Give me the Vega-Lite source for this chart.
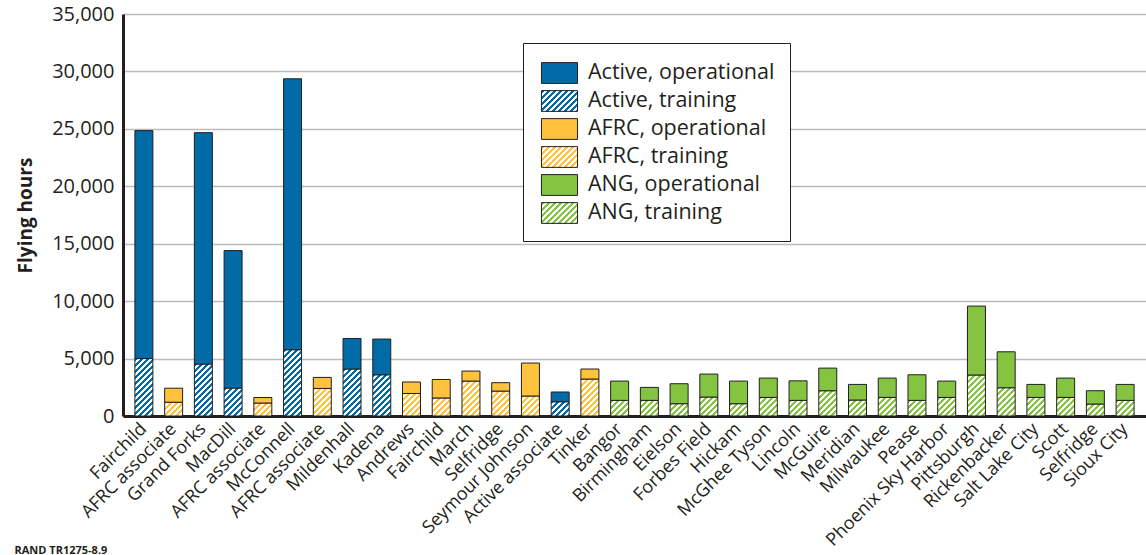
{
  "$schema": "https://vega.github.io/schema/vega-lite/v6.json",
  "width": 1023,
  "height": 402,
  "autosize": "none",
  "padding": {"left": 123, "top": 14, "right": 0, "bottom": 139},
  "background": "white",
  "config": {
    "font": "Open Sans",
    "view": {"stroke": null},
    "axis": {"labelFont": "Open Sans", "titleFont": "Open Sans", "labelColor": "#231F20", "titleColor": "#231F20"}
  },
  "params": [
    {"name": "stA", "value": [{"offset":0,"color":"#006BA6"},{"offset":0.0333,"color":"#006BA6"},{"offset":0.0333,"color":"#ffffff"},{"offset":0.0667,"color":"#ffffff"},{"offset":0.0667,"color":"#006BA6"},{"offset":0.1,"color":"#006BA6"},{"offset":0.1,"color":"#ffffff"},{"offset":0.1333,"color":"#ffffff"},{"offset":0.1333,"color":"#006BA6"},{"offset":0.1667,"color":"#006BA6"},{"offset":0.1667,"color":"#ffffff"},{"offset":0.2,"color":"#ffffff"},{"offset":0.2,"color":"#006BA6"},{"offset":0.2333,"color":"#006BA6"},{"offset":0.2333,"color":"#ffffff"},{"offset":0.2667,"color":"#ffffff"},{"offset":0.2667,"color":"#006BA6"},{"offset":0.3,"color":"#006BA6"},{"offset":0.3,"color":"#ffffff"},{"offset":0.3333,"color":"#ffffff"},{"offset":0.3333,"color":"#006BA6"},{"offset":0.3667,"color":"#006BA6"},{"offset":0.3667,"color":"#ffffff"},{"offset":0.4,"color":"#ffffff"},{"offset":0.4,"color":"#006BA6"},{"offset":0.4333,"color":"#006BA6"},{"offset":0.4333,"color":"#ffffff"},{"offset":0.4667,"color":"#ffffff"},{"offset":0.4667,"color":"#006BA6"},{"offset":0.5,"color":"#006BA6"},{"offset":0.5,"color":"#ffffff"},{"offset":0.5333,"color":"#ffffff"},{"offset":0.5333,"color":"#006BA6"},{"offset":0.5667,"color":"#006BA6"},{"offset":0.5667,"color":"#ffffff"},{"offset":0.6,"color":"#ffffff"},{"offset":0.6,"color":"#006BA6"},{"offset":0.6333,"color":"#006BA6"},{"offset":0.6333,"color":"#ffffff"},{"offset":0.6667,"color":"#ffffff"},{"offset":0.6667,"color":"#006BA6"},{"offset":0.7,"color":"#006BA6"},{"offset":0.7,"color":"#ffffff"},{"offset":0.7333,"color":"#ffffff"},{"offset":0.7333,"color":"#006BA6"},{"offset":0.7667,"color":"#006BA6"},{"offset":0.7667,"color":"#ffffff"},{"offset":0.8,"color":"#ffffff"},{"offset":0.8,"color":"#006BA6"},{"offset":0.8333,"color":"#006BA6"},{"offset":0.8333,"color":"#ffffff"},{"offset":0.8667,"color":"#ffffff"},{"offset":0.8667,"color":"#006BA6"},{"offset":0.9,"color":"#006BA6"},{"offset":0.9,"color":"#ffffff"},{"offset":0.9333,"color":"#ffffff"},{"offset":0.9333,"color":"#006BA6"},{"offset":0.9667,"color":"#006BA6"},{"offset":0.9667,"color":"#ffffff"},{"offset":1,"color":"#ffffff"}]},
    {"name": "stO", "value": [{"offset":0,"color":"#FFC23D"},{"offset":0.0333,"color":"#FFC23D"},{"offset":0.0333,"color":"#ffffff"},{"offset":0.0667,"color":"#ffffff"},{"offset":0.0667,"color":"#FFC23D"},{"offset":0.1,"color":"#FFC23D"},{"offset":0.1,"color":"#ffffff"},{"offset":0.1333,"color":"#ffffff"},{"offset":0.1333,"color":"#FFC23D"},{"offset":0.1667,"color":"#FFC23D"},{"offset":0.1667,"color":"#ffffff"},{"offset":0.2,"color":"#ffffff"},{"offset":0.2,"color":"#FFC23D"},{"offset":0.2333,"color":"#FFC23D"},{"offset":0.2333,"color":"#ffffff"},{"offset":0.2667,"color":"#ffffff"},{"offset":0.2667,"color":"#FFC23D"},{"offset":0.3,"color":"#FFC23D"},{"offset":0.3,"color":"#ffffff"},{"offset":0.3333,"color":"#ffffff"},{"offset":0.3333,"color":"#FFC23D"},{"offset":0.3667,"color":"#FFC23D"},{"offset":0.3667,"color":"#ffffff"},{"offset":0.4,"color":"#ffffff"},{"offset":0.4,"color":"#FFC23D"},{"offset":0.4333,"color":"#FFC23D"},{"offset":0.4333,"color":"#ffffff"},{"offset":0.4667,"color":"#ffffff"},{"offset":0.4667,"color":"#FFC23D"},{"offset":0.5,"color":"#FFC23D"},{"offset":0.5,"color":"#ffffff"},{"offset":0.5333,"color":"#ffffff"},{"offset":0.5333,"color":"#FFC23D"},{"offset":0.5667,"color":"#FFC23D"},{"offset":0.5667,"color":"#ffffff"},{"offset":0.6,"color":"#ffffff"},{"offset":0.6,"color":"#FFC23D"},{"offset":0.6333,"color":"#FFC23D"},{"offset":0.6333,"color":"#ffffff"},{"offset":0.6667,"color":"#ffffff"},{"offset":0.6667,"color":"#FFC23D"},{"offset":0.7,"color":"#FFC23D"},{"offset":0.7,"color":"#ffffff"},{"offset":0.7333,"color":"#ffffff"},{"offset":0.7333,"color":"#FFC23D"},{"offset":0.7667,"color":"#FFC23D"},{"offset":0.7667,"color":"#ffffff"},{"offset":0.8,"color":"#ffffff"},{"offset":0.8,"color":"#FFC23D"},{"offset":0.8333,"color":"#FFC23D"},{"offset":0.8333,"color":"#ffffff"},{"offset":0.8667,"color":"#ffffff"},{"offset":0.8667,"color":"#FFC23D"},{"offset":0.9,"color":"#FFC23D"},{"offset":0.9,"color":"#ffffff"},{"offset":0.9333,"color":"#ffffff"},{"offset":0.9333,"color":"#FFC23D"},{"offset":0.9667,"color":"#FFC23D"},{"offset":0.9667,"color":"#ffffff"},{"offset":1,"color":"#ffffff"}]},
    {"name": "stG", "value": [{"offset":0,"color":"#85C441"},{"offset":0.0333,"color":"#85C441"},{"offset":0.0333,"color":"#ffffff"},{"offset":0.0667,"color":"#ffffff"},{"offset":0.0667,"color":"#85C441"},{"offset":0.1,"color":"#85C441"},{"offset":0.1,"color":"#ffffff"},{"offset":0.1333,"color":"#ffffff"},{"offset":0.1333,"color":"#85C441"},{"offset":0.1667,"color":"#85C441"},{"offset":0.1667,"color":"#ffffff"},{"offset":0.2,"color":"#ffffff"},{"offset":0.2,"color":"#85C441"},{"offset":0.2333,"color":"#85C441"},{"offset":0.2333,"color":"#ffffff"},{"offset":0.2667,"color":"#ffffff"},{"offset":0.2667,"color":"#85C441"},{"offset":0.3,"color":"#85C441"},{"offset":0.3,"color":"#ffffff"},{"offset":0.3333,"color":"#ffffff"},{"offset":0.3333,"color":"#85C441"},{"offset":0.3667,"color":"#85C441"},{"offset":0.3667,"color":"#ffffff"},{"offset":0.4,"color":"#ffffff"},{"offset":0.4,"color":"#85C441"},{"offset":0.4333,"color":"#85C441"},{"offset":0.4333,"color":"#ffffff"},{"offset":0.4667,"color":"#ffffff"},{"offset":0.4667,"color":"#85C441"},{"offset":0.5,"color":"#85C441"},{"offset":0.5,"color":"#ffffff"},{"offset":0.5333,"color":"#ffffff"},{"offset":0.5333,"color":"#85C441"},{"offset":0.5667,"color":"#85C441"},{"offset":0.5667,"color":"#ffffff"},{"offset":0.6,"color":"#ffffff"},{"offset":0.6,"color":"#85C441"},{"offset":0.6333,"color":"#85C441"},{"offset":0.6333,"color":"#ffffff"},{"offset":0.6667,"color":"#ffffff"},{"offset":0.6667,"color":"#85C441"},{"offset":0.7,"color":"#85C441"},{"offset":0.7,"color":"#ffffff"},{"offset":0.7333,"color":"#ffffff"},{"offset":0.7333,"color":"#85C441"},{"offset":0.7667,"color":"#85C441"},{"offset":0.7667,"color":"#ffffff"},{"offset":0.8,"color":"#ffffff"},{"offset":0.8,"color":"#85C441"},{"offset":0.8333,"color":"#85C441"},{"offset":0.8333,"color":"#ffffff"},{"offset":0.8667,"color":"#ffffff"},{"offset":0.8667,"color":"#85C441"},{"offset":0.9,"color":"#85C441"},{"offset":0.9,"color":"#ffffff"},{"offset":0.9333,"color":"#ffffff"},{"offset":0.9333,"color":"#85C441"},{"offset":0.9667,"color":"#85C441"},{"offset":0.9667,"color":"#ffffff"},{"offset":1,"color":"#ffffff"}]}
  ],
  "data": {
    "values": [
      {"bar": "Fairchild|1", "series": "Active, training", "hours": 5000},
      {"bar": "Fairchild|1", "series": "Active, operational", "hours": 19850},
      {"bar": "AFRC associate|1", "series": "AFRC, training", "hours": 1200},
      {"bar": "AFRC associate|1", "series": "AFRC, operational", "hours": 1220},
      {"bar": "Grand Forks", "series": "Active, training", "hours": 4520},
      {"bar": "Grand Forks", "series": "Active, operational", "hours": 20150},
      {"bar": "MacDill", "series": "Active, training", "hours": 2430},
      {"bar": "MacDill", "series": "Active, operational", "hours": 11970},
      {"bar": "AFRC associate|2", "series": "AFRC, training", "hours": 1130},
      {"bar": "AFRC associate|2", "series": "AFRC, operational", "hours": 480},
      {"bar": "McConnell", "series": "Active, training", "hours": 5770},
      {"bar": "McConnell", "series": "Active, operational", "hours": 23590},
      {"bar": "AFRC associate|3", "series": "AFRC, training", "hours": 2400},
      {"bar": "AFRC associate|3", "series": "AFRC, operational", "hours": 960},
      {"bar": "Mildenhall", "series": "Active, training", "hours": 4090},
      {"bar": "Mildenhall", "series": "Active, operational", "hours": 2660},
      {"bar": "Kadena", "series": "Active, training", "hours": 3590},
      {"bar": "Kadena", "series": "Active, operational", "hours": 3110},
      {"bar": "Andrews", "series": "AFRC, training", "hours": 1960},
      {"bar": "Andrews", "series": "AFRC, operational", "hours": 1000},
      {"bar": "Fairchild|2", "series": "AFRC, training", "hours": 1570},
      {"bar": "Fairchild|2", "series": "AFRC, operational", "hours": 1610},
      {"bar": "March", "series": "AFRC, training", "hours": 3040},
      {"bar": "March", "series": "AFRC, operational", "hours": 870},
      {"bar": "Selfridge|1", "series": "AFRC, training", "hours": 2170},
      {"bar": "Selfridge|1", "series": "AFRC, operational", "hours": 730},
      {"bar": "Seymour Johnson", "series": "AFRC, training", "hours": 1740},
      {"bar": "Seymour Johnson", "series": "AFRC, operational", "hours": 2870},
      {"bar": "Active associate", "series": "Active, training", "hours": 1240},
      {"bar": "Active associate", "series": "Active, operational", "hours": 850},
      {"bar": "Tinker", "series": "AFRC, training", "hours": 3220},
      {"bar": "Tinker", "series": "AFRC, operational", "hours": 870},
      {"bar": "Bangor", "series": "ANG, training", "hours": 1360},
      {"bar": "Bangor", "series": "ANG, operational", "hours": 1680},
      {"bar": "Birmingham", "series": "ANG, training", "hours": 1360},
      {"bar": "Birmingham", "series": "ANG, operational", "hours": 1130},
      {"bar": "Eielson", "series": "ANG, training", "hours": 1070},
      {"bar": "Eielson", "series": "ANG, operational", "hours": 1740},
      {"bar": "Forbes Field", "series": "ANG, training", "hours": 1650},
      {"bar": "Forbes Field", "series": "ANG, operational", "hours": 2000},
      {"bar": "Hickam", "series": "ANG, training", "hours": 1070},
      {"bar": "Hickam", "series": "ANG, operational", "hours": 1970},
      {"bar": "McGhee Tyson", "series": "ANG, training", "hours": 1620},
      {"bar": "McGhee Tyson", "series": "ANG, operational", "hours": 1680},
      {"bar": "Lincoln", "series": "ANG, training", "hours": 1360},
      {"bar": "Lincoln", "series": "ANG, operational", "hours": 1700},
      {"bar": "McGuire", "series": "ANG, training", "hours": 2200},
      {"bar": "McGuire", "series": "ANG, operational", "hours": 1970},
      {"bar": "Meridian", "series": "ANG, training", "hours": 1390},
      {"bar": "Meridian", "series": "ANG, operational", "hours": 1360},
      {"bar": "Milwaukee", "series": "ANG, training", "hours": 1620},
      {"bar": "Milwaukee", "series": "ANG, operational", "hours": 1680},
      {"bar": "Pease", "series": "ANG, training", "hours": 1360},
      {"bar": "Pease", "series": "ANG, operational", "hours": 2230},
      {"bar": "Phoenix Sky Harbor", "series": "ANG, training", "hours": 1620},
      {"bar": "Phoenix Sky Harbor", "series": "ANG, operational", "hours": 1420},
      {"bar": "Pittsburgh", "series": "ANG, training", "hours": 3570},
      {"bar": "Pittsburgh", "series": "ANG, operational", "hours": 6000},
      {"bar": "Rickenbacker", "series": "ANG, training", "hours": 2460},
      {"bar": "Rickenbacker", "series": "ANG, operational", "hours": 3130},
      {"bar": "Salt Lake City", "series": "ANG, training", "hours": 1620},
      {"bar": "Salt Lake City", "series": "ANG, operational", "hours": 1130},
      {"bar": "Scott", "series": "ANG, training", "hours": 1620},
      {"bar": "Scott", "series": "ANG, operational", "hours": 1680},
      {"bar": "Selfridge|2", "series": "ANG, training", "hours": 1040},
      {"bar": "Selfridge|2", "series": "ANG, operational", "hours": 1160},
      {"bar": "Sioux City", "series": "ANG, training", "hours": 1360},
      {"bar": "Sioux City", "series": "ANG, operational", "hours": 1390}
    ]
  },
  "mark": {"type": "bar", "stroke": "#231F20", "strokeWidth": 1},
  "encoding": {
    "x": {
      "field": "bar",
      "type": "nominal",
      "sort": null,
      "scale": {"paddingInner": 0.395, "paddingOuter": 0.4},
      "axis": {
        "labelExpr": "split(datum.label, '|')[0]",
        "labelAngle": -45,
        "labelAlign": "right",
        "labelBaseline": "middle",
        "labelFontSize": 18,
        "labelPadding": 10,
        "labelLimit": 400,
        "labelOverlap": false,
        "ticks": false,
        "domainColor": "#231F20",
        "domainWidth": 3,
        "title": "RAND TR1275-8.9",
        "titleX": -109,
        "titleY": 137,
        "titleAlign": "left",
        "titleAnchor": "start",
        "titleBaseline": "alphabetic",
        "titleFontSize": 11,
        "titleFontWeight": "bold"
      }
    },
    "y": {
      "field": "hours",
      "type": "quantitative",
      "stack": "zero",
      "scale": {"domain": [0, 35000], "nice": false},
      "axis": {
        "values": [0, 5000, 10000, 15000, 20000, 25000, 30000, 35000],
        "format": ",d",
        "labelFontSize": 20,
        "labelPadding": 9,
        "ticks": false,
        "domainColor": "#231F20",
        "domainWidth": 3,
        "grid": true,
        "gridColor": "#BBBBBB",
        "gridWidth": 1.5,
        "title": "Flying hours",
        "titleFontSize": 19,
        "titleFontWeight": "bold",
        "titlePadding": 16
      }
    },
    "order": {"field": "series", "sort": "descending"},
    "fill": {
      "condition": {
        "test": "indexof(datum.series, 'training') >= 0",
        "value": {"expr": "{gradient: 'linear', x1: 0, y1: 0, x2: bandwidth('x') * 90 / (pow(bandwidth('x'), 2) + pow(scale('y', datum.hours_start) - scale('y', datum.hours_end), 2)), y2: abs(scale('y', datum.hours_start) - scale('y', datum.hours_end)) * 90 / (pow(bandwidth('x'), 2) + pow(scale('y', datum.hours_start) - scale('y', datum.hours_end), 2)), stops: indexof(datum.series, 'Active') == 0 ? stA : (indexof(datum.series, 'AFRC') == 0 ? stO : stG)}"}
      },
      "field": "series",
      "type": "nominal",
      "scale": {
        "domain": ["Active, operational", "Active, training", "AFRC, operational", "AFRC, training", "ANG, operational", "ANG, training"],
        "range": [
          "#006BA6",
          {"expr": "{gradient: 'linear', x1: 0, y1: 0, x2: 1.871, y2: 1.078, stops: stA}"},
          "#FFC23D",
          {"expr": "{gradient: 'linear', x1: 0, y1: 0, x2: 1.871, y2: 1.078, stops: stO}"},
          "#85C441",
          {"expr": "{gradient: 'linear', x1: 0, y1: 0, x2: 1.871, y2: 1.078, stops: stG}"}
        ]
      },
      "legend": {
        "orient": "none",
        "legendX": 400,
        "legendY": 29,
        "title": null,
        "symbolType": "M-0.8,-0.72H1.7V0.72H-0.8Z",
        "symbolSize": 833,
        "symbolStrokeColor": "#231F20",
        "symbolStrokeWidth": 1,
        "symbolOpacity": 1,
        "labelFont": "Open Sans",
        "labelFontSize": 21.5,
        "labelColor": "#231F20",
        "labelOffset": 20,
        "labelLimit": 400,
        "rowPadding": 0,
        "padding": 15,
        "strokeColor": "#231F20",
        "fillColor": "white"
      }
    }
  }
}
